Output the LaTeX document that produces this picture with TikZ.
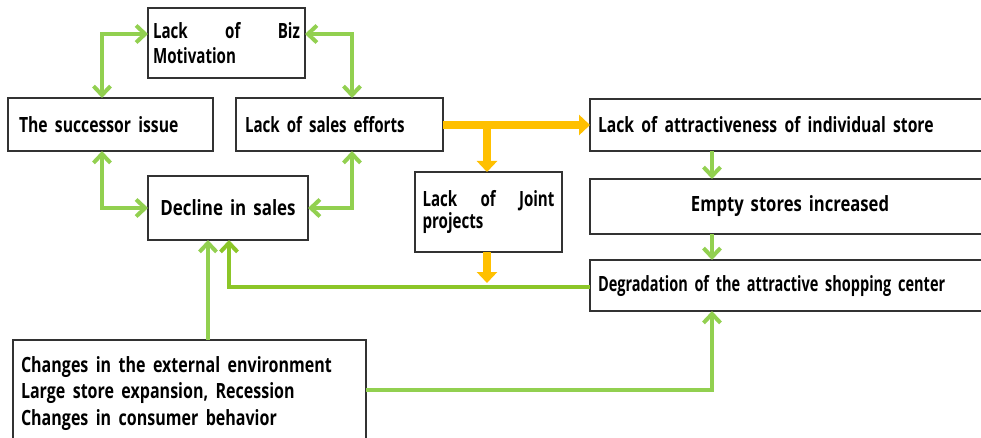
\documentclass[tikz,border=0pt]{standalone}
\usepackage{fontspec}
\usepackage{graphicx}
\setmainfont{Open Sans}[FakeStretch=0.72, WordSpace=1.6]
\usetikzlibrary{arrows.meta}
\definecolor{gA}{RGB}{146,208,80}
\definecolor{gB}{RGB}{140,198,40}
\definecolor{orA}{RGB}{255,192,0}
\definecolor{boxline}{RGB}{50,50,50}
\newcommand{\hsx}[2]{\scalebox{#1}[1]{#2}}
\tikzset{
  box/.style={draw=boxline, line width=1.2pt, fill=white, inner sep=0pt, outer sep=0pt, font=\fontsize{21}{26.5}\selectfont\bfseries},
  gline/.style={draw=gA, line width=4.5pt},
  gtip/.style={-{Straight Barb[length=9pt,width=17pt,line width=4pt]}},
  gboth/.style={{Straight Barb[length=9pt,width=17pt,line width=4pt]}-{Straight Barb[length=9pt,width=17pt,line width=4pt]}},
  oline/.style={draw=orA, line width=7.5pt, -{Triangle[length=11pt,width=20pt]}}
}
\begin{document}
\begin{tikzpicture}[x=1pt,y=-1pt]
\clip (0,0) rectangle (981,438);
\fill[white] (0,0) rectangle (981,438);
% boxes
\node[box, minimum width=157pt, minimum height=70pt, text width=147pt, align=justify, font=\fontsize{21}{24.5}\selectfont\bfseries] (biz) at (226.5,43) {Lack of Biz\linebreak Motivation};
\node[box, minimum width=205pt, minimum height=53pt, text width=183pt, align=left] (succ) at (110.5,124.5) {\hsx{1.04}{The successor issue}};
\node[box, minimum width=207pt, minimum height=53pt, text width=189pt, align=left] (sales) at (339.5,124.5) {Lack of sales efforts};
\node[box, minimum width=160pt, minimum height=64pt, align=center] (decl) at (228,208) {\hsx{1.12}{Decline in sales}};
\node[box, minimum width=147pt, minimum height=80pt, text width=132pt, align=justify, font=\fontsize{21}{20}\selectfont\bfseries] (joint) at (488.5,212) {Lack of Joint\linebreak projects};
\node[box, minimum width=400pt, minimum height=52pt, text width=384pt, align=left] (indiv) at (790,125) {\hsx{1.04}{Lack of attractiveness of individual store}};
\node[box, minimum width=400pt, minimum height=55pt, align=center] (empty) at (790,206.5) {\hsx{1.1}{Empty stores increased}};
\node[box, minimum width=400pt, minimum height=51pt, text width=384pt, align=left] (degr) at (790,285.5) {\hsx{0.96}{Degradation of the attractive shopping center}};
\node[box, minimum width=353pt, minimum height=106.4pt, text width=337pt, align=left, anchor=north west] (chg) at (13,340) {\strut\hsx{1.06}{Changes in the external environment}\\\strut\hsx{1.06}{Large store expansion, Recession}\\\strut\hsx{1.06}{Changes in consumer behavior}};
% green connectors around the loop
\coordinate (l1) at (102,34);
\coordinate (r1) at (352,34);
\draw[gline, gboth] (biz.west |- l1) -| (succ.north -| l1);
\draw[gline, gboth] (biz.east |- r1) -| (sales.north -| r1);
\draw[gline, gboth] (succ.south -| l1) |- (decl.west);
\draw[gline, gboth] (sales.south -| r1) |- (decl.east);
% orange
\coordinate (ob) at (487,125);
\draw[oline] (sales.east |- ob) -- (indiv.west |- ob);
\draw[oline] (ob) -- (joint.north -| ob);
\coordinate (gl) at (229,287);
\draw[oline] (joint.south -| ob) -- ++(0,31);
% green from degradation and changes
\draw[gline, draw=gB, gtip] (degr.west |- gl) -| (decl.south -| gl);
\coordinate (cx) at (208,340);
\draw[gline, gtip] (chg.north -| cx) -- (decl.south -| cx);
\coordinate (rx) at (712,390);
\draw[gline, gtip] (chg.east |- rx) -| (degr.south -| rx);
\draw[gline, gtip] (indiv.south -| rx) -- (empty.north -| rx);
\draw[gline, gtip] (empty.south -| rx) -- (degr.north -| rx);
\end{tikzpicture}
\end{document}
